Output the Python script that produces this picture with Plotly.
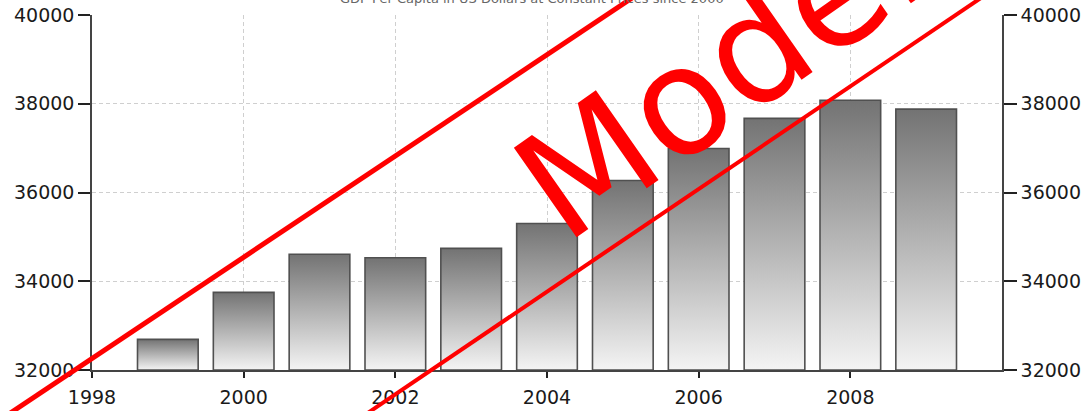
import plotly.graph_objects as go

# ---- data ----
years = [1999, 2000, 2001, 2002, 2003, 2004, 2005, 2006, 2007, 2008, 2009]
gdp_per_capita = [32690, 33750, 34610, 34530, 34740, 35300, 36270, 36990, 37670, 38080, 37880]
x_tick_values = [1998, 2000, 2002, 2004, 2006, 2008]
title_text = "GDP Per Capita in US Dollars at Constant Prices since 2000"
watermark_text = "Model"
y_min, y_max = 32000, 40000
x_min, x_max = 1998, 2010
bar_width = 0.8

fig = go.Figure()

for yr, val in zip(years, gdp_per_capita):
    x0, x1 = yr - bar_width / 2, yr + bar_width / 2
    fig.add_trace(go.Scatter(
        x=[x0, x0, x1, x1, x0],
        y=[y_min, val, val, y_min, y_min],
        mode="lines",
        fill="toself",
        fillgradient=dict(type="vertical",
                          colorscale=[[0, "#f4f4f4"], [1, "#737373"]]),
        line=dict(color="#505050", width=1.6),
        hoverinfo="skip",
        showlegend=False,
    ))

# invisible trace to drive the right-hand axis
fig.add_trace(go.Scatter(x=years, y=gdp_per_capita, yaxis="y2", mode="markers",
                         marker=dict(opacity=0), hoverinfo="skip", showlegend=False))

tick_font = dict(family="DejaVu Sans", size=19, color="#1a1a1a")
grid = dict(showgrid=True, gridcolor="#cfcfcf", gridwidth=1, griddash="4px,3px")

fig.update_layout(
    width=1084, height=411,
    margin=dict(l=92, r=82, t=15, b=41, autoexpand=False),
    paper_bgcolor="white", plot_bgcolor="white",
    xaxis=dict(range=[x_min, x_max], tickvals=x_tick_values, tickformat="d",
               showline=True, linecolor="#444", linewidth=1.5, automargin=False,
               ticks="outside", ticklen=6, tickcolor="#222", tickwidth=1.5,
               tickfont=tick_font, ticklabelstandoff=3, zeroline=False,
               ticklabeloverflow="allow", **grid),
    yaxis=dict(range=[y_min, y_max], dtick=2000, tickformat="d", automargin=False,
               showline=True, linecolor="#444", linewidth=1.5,
               ticks="outside", ticklen=12, tickcolor="#222", tickwidth=1.5,
               tickfont=tick_font, zeroline=False, ticklabeloverflow="allow", **grid),
    yaxis2=dict(range=[y_min, y_max], dtick=2000, tickformat="d", overlaying="y",
                side="right", showline=True, linecolor="#444", linewidth=1.5,
                automargin=False, ticklabeloverflow="allow",
                ticks="outside", ticklen=13, tickcolor="#222", tickwidth=1.5,
                tickfont=tick_font, showgrid=False, zeroline=False),
)

# cut-off title
fig.add_annotation(text=title_text, xref="paper", yref="paper", x=0.484, y=1.046,
                   xanchor="center", yanchor="middle", showarrow=False,
                   font=dict(family="DejaVu Sans", size=13, color="#666"))

# watermark
fig.add_annotation(text=watermark_text, xref="paper", yref="paper", x=0.689, y=0.834,
                   xanchor="center", yanchor="middle", showarrow=False, textangle=-35,
                   font=dict(family="DejaVu Sans", size=150, color="#ff0000"))
fig.add_shape(type="line", xref="paper", yref="paper",
              x0=-0.134, y0=-0.197, x1=0.623, y1=1.0986,
              line=dict(color="#ff0000", width=5), layer="above")
fig.add_shape(type="line", xref="paper", yref="paper",
              x0=0.2593, y0=-0.197, x1=1.006, y1=1.0986,
              line=dict(color="#ff0000", width=4), layer="above")

fig.write_html("out.html", config={"displayModeBar": False},
               post_script="document.body.style.margin='0';")
